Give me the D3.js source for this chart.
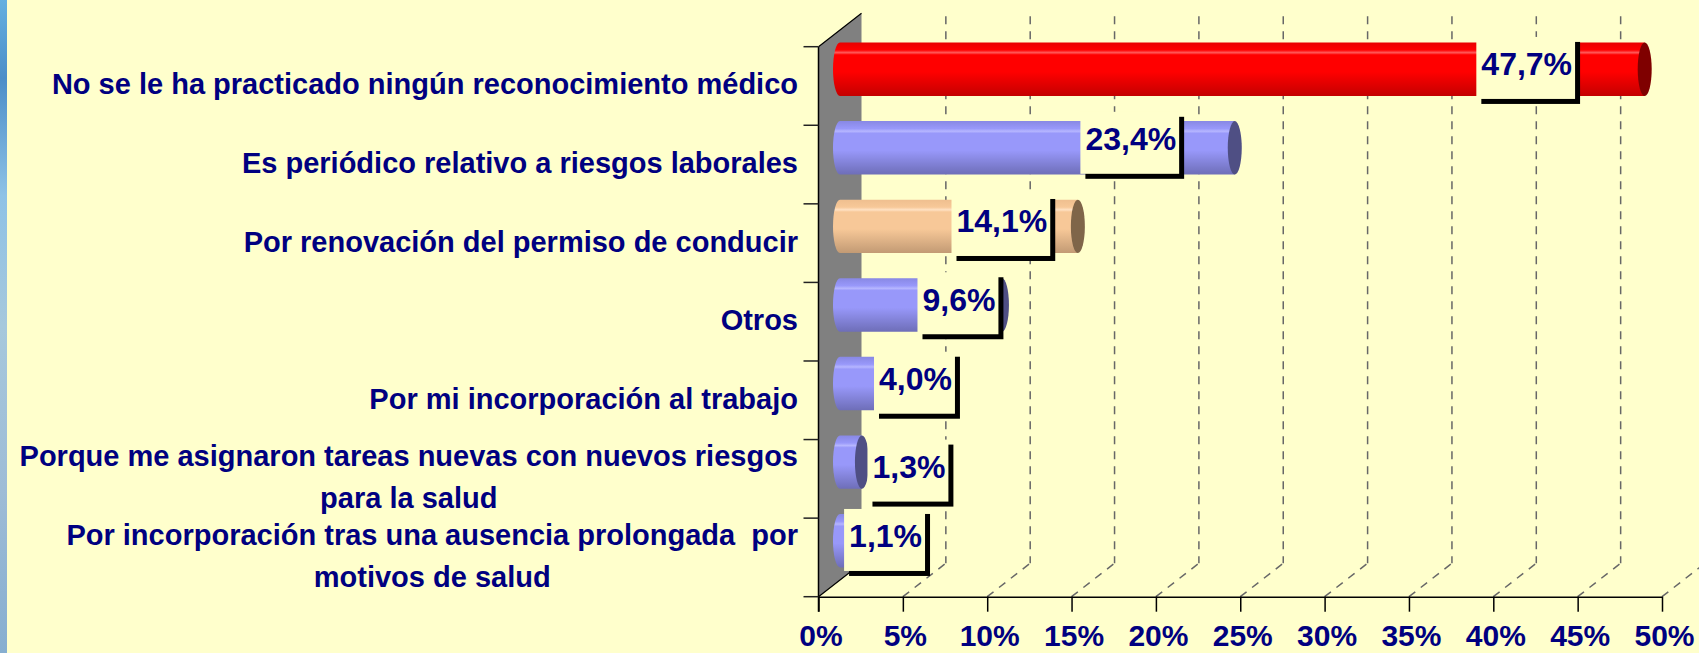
<!DOCTYPE html>
<html>
<head>
<meta charset="utf-8">
<script src="https://cdn.jsdelivr.net/npm/d3@7"></script>
<style>
  html, body { margin: 0; padding: 0; background: #FFFFCC; overflow: hidden; }
  svg { display: block; }
  text { font-family: "Liberation Sans", Arial, sans-serif; font-weight: bold; fill: #000080; }
</style>
</head>
<body>
<div id="app"></div>
<script>
/* global d3 */

// Data
const categories = [
  ['No se le ha practicado ningún reconocimiento médico'],
  ['Es periódico relativo a riesgos laborales'],
  ['Por renovación del permiso de conducir'],
  ['Otros'],
  ['Por mi incorporación al trabajo'],
  ['Porque me asignaron tareas nuevas con nuevos riesgos', 'para la salud'],
  ['Por incorporación tras una ausencia prolongada  por', 'motivos de salud'],
];
const values = [47.7, 23.4, 14.1, 9.6, 4.0, 1.3, 1.1];
const xTicks = [0, 5, 10, 15, 20, 25, 30, 35, 40, 45, 50];

// Layout
const width = 1699;
const height = 653;
const plot = { left: 818.5, right: 1662, top: 46.7, bottom: 596.7 };
const depth = { dx: 43, dy: -33.5 };
const labelRight = 798;
// hand placed value labels: shift of the box centre from the bar end
const labelShift = [[-119, -1.3], [-105, -5], [-77, -1.4], [-44, -1.7], [7, -0.8], [46, 8.5], [26, -0.7]];

const names = categories.map((c) => c.join(' '));

// Colours
const palette = {
  red: { top: '#e80000', hi: '#ff5a5a', mid: '#ff0000', bot: '#c40000', cap: '#7f0000' },
  blue: { top: '#8888e4', hi: '#b6b6ff', mid: '#9898fa', bot: '#6e6eb8', cap: '#4f4f84' },
  peach: { top: '#efbf8f', hi: '#ffe2c4', mid: '#f7c898', bot: '#c29a74', cap: '#7f6549' },
};
const color = d3.scaleOrdinal()
  .domain(names)
  .range(['red', 'blue', 'peach', 'blue', 'blue', 'blue', 'blue']);

// Scales
const xScale = d3.scaleLinear().domain([0, 50]).range([plot.left, plot.right]);
const yScale = d3.scaleBand().domain(names).range([plot.top, plot.bottom]).padding(0);
const bw = yScale.bandwidth();
const barH = bw * 0.68;

const fmt = d3.formatLocale({ decimal: ',', thousands: '.', grouping: [3], currency: ['', '€'] }).format('.1f');

const svg = d3.select('#app')
  .append('svg')
  .attr('width', width)
  .attr('height', height);

const defs = svg.append('defs');

// left decorative strip
const strip = defs.append('linearGradient').attr('id', 'strip')
  .attr('x1', 0).attr('y1', 0).attr('x2', 0).attr('y2', 1);
[[0, '#64b0e0'], [0.12, '#4b8ec8'], [0.3, '#8ec2e6'], [0.5, '#a6c8dc'], [0.75, '#9ebcd6'], [1, '#86aed0']]
  .forEach(([o, c]) => strip.append('stop').attr('offset', o).attr('stop-color', c));

Object.entries(palette).forEach(([key, p]) => {
  const g = defs.append('linearGradient').attr('id', `bar-${key}`)
    .attr('x1', 0).attr('y1', 0).attr('x2', 0).attr('y2', 1);
  [[0, p.top], [0.14, p.mid], [0.19, p.hi], [0.23, p.mid], [0.55, p.mid], [1, p.bot]]
    .forEach(([o, c]) => g.append('stop').attr('offset', o).attr('stop-color', c));
});

svg.append('rect')
  .attr('x', 0).attr('y', 0)
  .attr('width', 7).attr('height', height)
  .attr('fill', 'url(#strip)');

// Back gridlines and floor lines
const grid = svg.append('g').attr('id', 'grid')
  .attr('stroke', '#676767')
  .attr('stroke-width', 1.5)
  .attr('stroke-dasharray', '8,7')
  .attr('fill', 'none');

grid.selectAll('.back')
  .data(xTicks.filter((t) => t > 0))
  .join('line')
  .attr('class', 'back')
  .attr('x1', (d) => xScale(d) + depth.dx)
  .attr('x2', (d) => xScale(d) + depth.dx)
  .attr('y1', plot.top + depth.dy + 3)
  .attr('y2', plot.bottom + depth.dy);

grid.selectAll('.floor')
  .data(xTicks.filter((t) => t > 0))
  .join('line')
  .attr('class', 'floor')
  .attr('x1', (d) => xScale(d))
  .attr('y1', plot.bottom)
  .attr('x2', (d) => xScale(d) + depth.dx)
  .attr('y2', plot.bottom + depth.dy);

// Side wall
const x0 = xScale(0);
svg.append('path')
  .attr('d', `M${x0},${plot.top}L${x0 + depth.dx},${plot.top + depth.dy}L${x0 + depth.dx},${plot.bottom + depth.dy}L${x0},${plot.bottom}Z`)
  .attr('fill', '#808080');
svg.append('path')
  .attr('d', `M${x0},${plot.top}L${x0 + depth.dx},${plot.top + depth.dy}M${x0},${plot.bottom}L${x0 + depth.dx},${plot.bottom + depth.dy}`)
  .attr('stroke', '#000')
  .attr('stroke-width', 1.2)
  .attr('fill', 'none');

// Category axis line and ticks
svg.append('line')
  .attr('x1', x0).attr('x2', x0)
  .attr('y1', plot.top).attr('y2', plot.bottom + 15)
  .attr('stroke', '#000')
  .attr('stroke-width', 1.5);
svg.selectAll('.ytick')
  .data(names.map((n) => yScale(n)).concat([plot.bottom]))
  .join('line')
  .attr('class', 'ytick')
  .attr('x1', x0 - 15).attr('x2', x0)
  .attr('y1', (d) => d).attr('y2', (d) => d)
  .attr('stroke', '#222')
  .attr('stroke-width', 1.5);

// Value axis (floor)
const xAxis = d3.axisBottom(xScale)
  .tickValues(xTicks)
  .tickSize(15)
  .tickSizeOuter(0)
  .tickFormat((d) => `${d}%`);
const axisG = svg.append('g')
  .attr('transform', `translate(0, ${plot.bottom})`)
  .call(xAxis)
  .attr('font-family', null)
  .attr('font-size', null);
axisG.select('.domain').attr('stroke', '#000').attr('stroke-width', 1.5);
axisG.selectAll('.tick line').attr('stroke', '#000').attr('stroke-width', 1.5);
axisG.selectAll('.tick text')
  .attr('y', 49.5)
  .attr('dy', 0)
  .attr('dx', 2)
  .attr('fill', '#000080')
  .style('font-size', '30px');

// Bars (cylinders at mid depth)
const bars = svg.append('g').attr('id', 'bars');
names.forEach((name, i) => {
  const cy = yScale(name) + bw / 2 + depth.dy / 2;
  const xa = xScale(0) + depth.dx / 2;
  const xb = xScale(values[i]) + depth.dx / 2;
  const r = 7;
  const hh = barH / 2;
  const p = palette[color(name)];
  bars.append('path')
    .attr('d', `M${xa},${cy - hh}L${xb},${cy - hh}L${xb},${cy + hh}L${xa},${cy + hh}A${r},${hh} 0 0 1 ${xa},${cy - hh}Z`)
    .attr('fill', `url(#bar-${color(name)})`);
  bars.append('ellipse')
    .attr('cx', xb).attr('cy', cy)
    .attr('rx', r).attr('ry', hh)
    .attr('fill', p.cap);
});

// Value labels
const labels = svg.append('g').attr('id', 'valueLabels');
names.forEach((name, i) => {
  const cx = xScale(values[i]) + depth.dx / 2 + labelShift[i][0];
  const cy = yScale(name) + bw / 2 + depth.dy / 2 + labelShift[i][1];
  const g = labels.append('g').attr('transform', `translate(${cx}, ${cy})`);
  const t = g.append('text')
    .attr('text-anchor', 'middle')
    .attr('x', 1)
    .attr('y', 7.5)
    .style('font-size', '32px')
    .text(`${fmt(values[i])}%`);
  const w = t.node().getComputedTextLength() + 8;
  const h = 62;
  g.insert('rect', 'text')
    .attr('x', -w / 2 + 5).attr('y', -h / 2 + 5)
    .attr('width', w).attr('height', h)
    .attr('fill', '#000');
  g.insert('rect', 'text')
    .attr('x', -w / 2).attr('y', -h / 2)
    .attr('width', w).attr('height', h)
    .attr('fill', '#FFFFCC');
});

// Category labels, each block right aligned, lines centred in it
const catG = svg.append('g').attr('id', 'categoryLabels');
categories.forEach((lines, i) => {
  const g = catG.append('g');
  const mid = yScale(names[i]) + bw / 2 - 2;
  const texts = g.selectAll('text')
    .data(lines)
    .join('text')
    .attr('text-anchor', 'middle')
    .style('font-size', '29px')
    .style('white-space', 'pre')
    .attr('y', (d, j) => mid + (j - (lines.length - 1) / 2) * 41.7 + 10.4)
    .text((d) => d);
  let maxW = 0;
  texts.each(function measure() { maxW = Math.max(maxW, this.getComputedTextLength()); });
  texts.attr('x', labelRight - maxW / 2);
});
</script>
</body>
</html>
